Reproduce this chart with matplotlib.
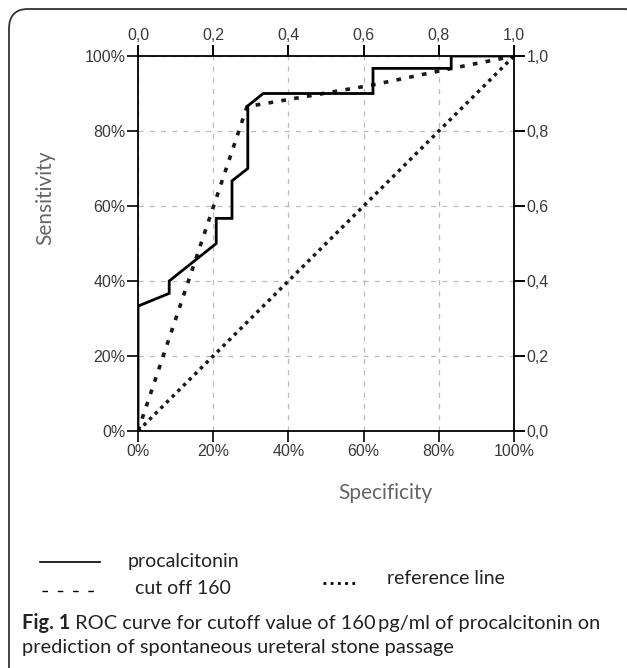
import matplotlib
matplotlib.use('Agg')
import matplotlib.pyplot as plt
from matplotlib.lines import Line2D
from matplotlib.patches import FancyBboxPatch
from matplotlib.ticker import FixedLocator

W, H = 627, 668

# 1 - specificity (x) and sensitivity (y)
pctFpr = [0.0, 0.0, 0.083, 0.083, 0.208, 0.208, 0.25, 0.25, 0.292, 0.292, 0.333,
          0.625, 0.625, 0.833, 0.833, 1.0]
pctTpr = [0.0, 0.333, 0.367, 0.40, 0.50, 0.567, 0.567, 0.667, 0.70, 0.867, 0.90,
          0.90, 0.967, 0.967, 1.0, 1.0]

cutFpr = [0.0, 0.29, 0.62, 0.83, 1.0]
cutTpr = [0.0, 0.865, 0.922, 0.966, 1.0]

refFpr = [0.0, 1.0]
refTpr = [0.0, 1.0]

ticks = [0.0, 0.2, 0.4, 0.6, 0.8, 1.0]
pctLabels = ['0%', '20%', '40%', '60%', '80%', '100%']
decLabels = ['0,0', '0,2', '0,4', '0,6', '0,8', '1,0']

captionBold = 'Fig. 1'
captionLine1 = ' ROC curve for cutoff value of 160\u2009pg/ml of procalcitonin on'
captionLine2 = 'prediction of spontaneous ureteral stone passage'


def px(x, y):
    # pixel position (from top-left) -> figure fraction
    return x / W, 1 - y / H


fig = plt.figure(figsize=(W / 100, H / 100), dpi=100)

# rounded frame around the figure
frame = FancyBboxPatch(px(9, 700), (645 - 9) / W, (700 - 9) / H,
                       boxstyle='round,pad=0,rounding_size=0.03',
                       transform=fig.transFigure, fill=False, edgecolor='#333333',
                       linewidth=1.3, clip_on=False)
fig.patches.append(frame)

tickFont = ['Liberation Sans', 'DejaVu Sans']
tickKw = dict(direction='out', length=8, width=1.2, labelsize=11.5,
              labelcolor='#3a3a3a', pad=1)

ax = fig.add_axes([138 / W, 1 - 431 / H, 376 / W, 375 / H])
ax.plot(refFpr, refTpr, color='#1a1a1a', linewidth=2.5, linestyle=(0, (1.0, 1.3)))
ax.plot(cutFpr, cutTpr, color='#1a1a1a', linewidth=2.6, linestyle=(0, (1.3, 2.3)))
ax.plot(pctFpr, pctTpr, color='black', linewidth=2.0, solid_joinstyle='miter')
ax.set_xlim(0, 1)
ax.set_ylim(0, 1)

ax.xaxis.set_major_locator(FixedLocator(ticks))
ax.yaxis.set_major_locator(FixedLocator(ticks))
ax.set_xticklabels(pctLabels, family=tickFont)
ax.set_yticklabels(pctLabels, family=tickFont)
ax.tick_params(top=True, right=True, labeltop=False, labelright=False, **tickKw)
for s in ax.spines.values():
    s.set_linewidth(1.3)
ax.grid(True, color='#bbbbbb', linestyle=(0, (4, 5)), linewidth=0.9)

secx = ax.secondary_xaxis('top')
secx.xaxis.set_major_locator(FixedLocator(ticks))
secx.set_xticklabels(decLabels, family=tickFont)
secx.tick_params(**tickKw)
secy = ax.secondary_yaxis('right')
secy.yaxis.set_major_locator(FixedLocator(ticks))
secy.set_yticklabels(decLabels, family=tickFont)
secy.tick_params(**tickKw)
for a in (secx, secy):
    for s in a.spines.values():
        s.set_visible(False)

labelFont = ['Lato', 'DejaVu Sans']
fig.text(*px(385, 493), 'Specificity', fontsize=15, color='#666666',
         family=labelFont, ha='center', va='center')
fig.text(*px(45, 198), 'Sensitivity', fontsize=15, color='#666666',
         family=labelFont, ha='center', va='center', rotation=90)

# legend block
fig.lines.append(Line2D([40 / W, 100 / W], [1 - 562 / H] * 2, color='black',
                        linewidth=1.2, transform=fig.transFigure))
fig.lines.append(Line2D([42 / W, 100 / W], [1 - 591 / H] * 2, color='black',
                        linewidth=1.0, linestyle=(0, (4, 7)), transform=fig.transFigure))
fig.lines.append(Line2D([323 / W, 357 / W], [1 - 583 / H] * 2, color='black',
                        linewidth=2.0, linestyle=(0, (1, 1.6)), transform=fig.transFigure))
fig.text(*px(128, 562), 'procalcitonin', fontsize=14, color='#222222',
         family=labelFont, va='center')
fig.text(*px(135, 588), 'cut off 160', fontsize=14, color='#222222',
         family=labelFont, va='center')
fig.text(*px(387, 578), 'reference line', fontsize=14, color='#222222',
         family=labelFont, va='center')

# caption
capFont = ['Lato', 'DejaVu Sans']
t = fig.text(*px(22, 623), captionBold, fontsize=14.4, fontweight='bold',
             color='#222222', family=capFont, va='center')
fig.canvas.draw()
bb = t.get_window_extent()
fig.text(bb.x1 / W, 1 - 623 / H, captionLine1, fontsize=14.4, color='#222222',
         family=capFont, va='center')
fig.text(*px(22, 648), captionLine2, fontsize=14.4, color='#222222',
         family=capFont, va='center')

fig.savefig('out.png', dpi=100)
